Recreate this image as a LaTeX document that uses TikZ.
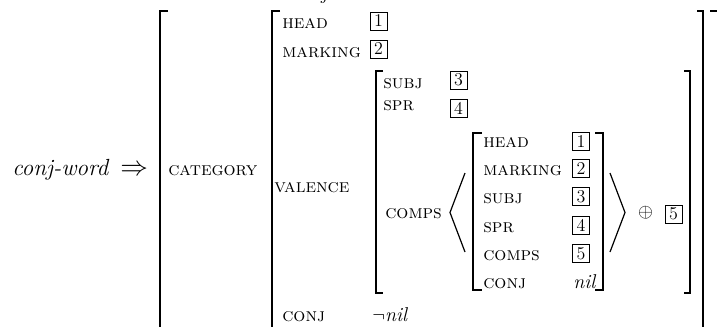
\documentclass[tikz,border=0pt]{standalone}
\begin{document}
\begin{tikzpicture}[x=0.75pt,y=-0.75pt,
  lbl/.style={anchor=base west, inner sep=0pt, font=\fontsize{14.2}{17}\selectfont\scshape},
  val/.style={anchor=base west, inner sep=0pt, font=\fontsize{15}{18}\selectfont\itshape},
  tagbox/.style={draw, line width=0.6pt, minimum width=12.75pt, minimum height=13.5pt, inner sep=0pt, font=\fontsize{13.5}{15}\selectfont},
  brk/.style={line width=1pt},
  ang/.style={line width=0.9pt, line join=miter}]
\useasboundingbox (0,0) rectangle (717,326);
\clip (0,0) rectangle (717,326);
% left side
\node[anchor=base west, inner sep=0pt, font=\fontsize{17.5}{20}\selectfont\itshape] (cw) at (12,175) {conj-word};
\node[anchor=base west, inner sep=0pt, font=\fontsize{22}{24}\selectfont] (arr) at (120,175) {$\Rightarrow$};
\node[lbl] (cat) at (168,175) {category};
\node[val] (typ) at (292,-1) {conj};
% outer brackets
\draw[brk] (168,11) -- (160,11) -- (160,345);
\draw[brk] (710,11) -- (718,11) -- (718,345);
% category value brackets
\draw[brk] (280,11) -- (272,11) -- (272,345);
\draw[brk] (697,11) -- (703,11) -- (703,345);
% first level rows
\node[lbl] (head) at (282,28) {head};
\node[tagbox] (t1) at (378.5,21) {1};
\node[lbl] (mark) at (282,57) {marking};
\node[tagbox] (t2) at (378.5,49) {2};
\node[lbl] (val) at (274,192) {valence};
\node[lbl] (conj) at (282,321) {conj};
\node[anchor=base west, inner sep=0pt, font=\fontsize{15}{18}\selectfont] (nn) at (372,321) {$\neg$\textit{nil}};
% valence brackets
\draw[brk] (383,71) -- (376,71) -- (376,293) -- (383,293);
\draw[brk] (684,71) -- (690,71) -- (690,293) -- (684,293);
\node[lbl] (subj) at (383,88) {subj};
\node[tagbox] (t3) at (458.5,80) {3};
\node[lbl] (spr) at (383,110) {spr};
\node[tagbox] (t4) at (458.5,108.5) {4};
\node[lbl] (comps) at (385,218) {comps};
% list angle brackets
\coordinate (la) at (465,173);
\coordinate (lb) at (450,212.5);
\coordinate (lc) at (465,252);
\draw[ang] (la) -- (lb) -- (lc);
\coordinate (ra) at (610,173);
\coordinate (rb) at (625,212.5);
\coordinate (rc) at (610,252);
\draw[ang] (ra) -- (rb) -- (rc);
% inner brackets
\draw[brk] (482,133) -- (473,133) -- (473,290) -- (482,290);
\draw[brk] (595,133) -- (603,133) -- (603,290) -- (595,290);
\node[lbl] (ih) at (483,147) {head};
\node[tagbox] (it1) at (581,141.5) {1};
\node[lbl] (im) at (483,175) {marking};
\node[tagbox] (it2) at (581,168.5) {2};
\node[lbl] (is) at (483,203) {subj};
\node[tagbox] (it3) at (581,196.5) {3};
\node[lbl] (ip) at (483,232) {spr};
\node[tagbox] (it4) at (581,225.5) {4};
\node[lbl] (ic) at (483,260) {comps};
\node[tagbox] (it5) at (581,253.5) {5};
\node[lbl] (ij) at (483,288) {conj};
\node[val] (inil) at (573,288) {nil};
% append
\node[inner sep=0pt, font=\fontsize{15}{18}\selectfont] (op) at (645.5,213) {$\oplus$};
\node[tagbox] (t5) at (673.5,214) {5};
\end{tikzpicture}
\end{document}
